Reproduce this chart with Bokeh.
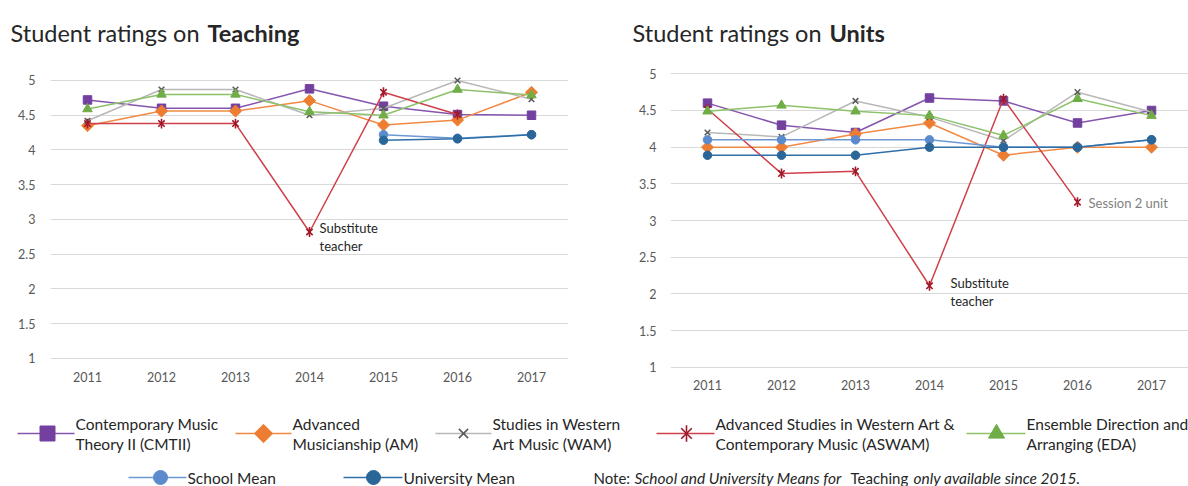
import numpy as np
from bokeh.plotting import figure
from bokeh.layouts import column, row
from bokeh.models import Range1d, FixedTicker, NumeralTickFormatter, Label
from bokeh.embed import file_html
from bokeh.resources import INLINE

nan = float("nan")

# ---------------- data ----------------
years = [2011, 2012, 2013, 2014, 2015, 2016, 2017]
y_ticks = [1, 1.5, 2, 2.5, 3, 3.5, 4, 4.5, 5]

teach_cmtii = [4.72, 4.60, 4.60, 4.88, 4.63, 4.51, 4.50]
teach_am = [4.35, 4.56, 4.56, 4.71, 4.36, 4.43, 4.83]
teach_wam = [4.42, 4.87, 4.87, 4.50, 4.60, 5.00, 4.73]
teach_aswam = [4.38, 4.38, 4.38, 2.82, 4.83, 4.51, nan]
teach_eda = [4.59, 4.80, 4.80, 4.55, 4.50, 4.87, 4.79]
teach_school = [nan, nan, nan, nan, 4.22, 4.17, 4.22]
teach_univ = [nan, nan, nan, nan, 4.14, 4.16, 4.22]

units_cmtii = [4.60, 4.30, 4.20, 4.67, 4.63, 4.33, 4.50]
units_am = [4.00, 4.00, 4.18, 4.33, 3.89, 4.00, 4.00]
units_wam = [4.20, 4.14, 4.63, 4.41, 4.09, 4.75, 4.48]
units_aswam = [4.52, 3.64, 3.67, 2.11, 4.66, 3.25, nan]
units_eda = [4.49, 4.57, 4.49, 4.43, 4.16, 4.66, 4.43]
units_school = [4.10, 4.10, 4.10, 4.10, 4.00, 4.00, 4.10]
units_univ = [3.89, 3.89, 3.89, 4.00, 4.00, 4.00, 4.10]

legend_labels = [
    ["Contemporary Music", "Theory II (CMTII)"],
    ["Advanced", "Musicianship (AM)"],
    ["Studies in Western", "Art Music (WAM)"],
    ["Advanced Studies in Western Art &", "Contemporary Music (ASWAM)"],
    ["Ensemble Direction and", "Arranging (EDA)"],
    ["School Mean"],
    ["University Mean"],
]

# ---------------- styles ----------------
FONT = "Lato"
TXT = "#262626"
STYLES = [
    dict(line="#8655AE", marker="square", fill="#7340A0", angle=0.0, size=8.5, lsize=15),
    dict(line="#F08A45", marker="square", fill="#ED7D31", angle=np.pi / 4, size=8.5, lsize=13),
    dict(line="#B8B8B8", marker="x", fill="#595959", angle=0.0, size=8, lsize=13),
    dict(line="#D0404A", marker="star6", fill="#A0192A", angle=0.0, size=9, lsize=15),
    dict(line="#8CC26A", marker="triangle", fill="#70AD47", angle=0.0, size=9.5, lsize=16),
    dict(line="#6C98D4", marker="circle", fill="#5B8BCD", angle=0.0, size=8.5, lsize=14),
    dict(line="#2F6FA8", marker="circle", fill="#2B6699", angle=0.0, size=8.5, lsize=14),
]


def draw_marker(p, xs, ys, st, size):
    if st["marker"] == "star6":
        p.scatter(xs, ys, marker="x", size=size, line_color=st["fill"], line_width=1.6)
        p.scatter(xs, ys, marker="dash", angle=np.pi / 2, size=size * 1.1,
                  line_color=st["fill"], line_width=1.6)
    elif st["marker"] == "x":
        p.scatter(xs, ys, marker="x", size=size, line_color=st["fill"], line_width=1.5)
    else:
        p.scatter(xs, ys, marker=st["marker"], angle=st["angle"], size=size,
                  fill_color=st["fill"], line_color=st["fill"])


def make_chart(series, width, bl, br, y_lo, y_hi, ylab_standoff, xlab_standoff):
    p = figure(width=width, height=348, x_range=Range1d(2010.5, 2017.5),
               y_range=Range1d(y_lo, y_hi), output_backend="svg", toolbar_location=None,
               min_border_left=bl, min_border_right=br, min_border_top=20, min_border_bottom=32)
    p.outline_line_color = None
    p.background_fill_color = "white"
    p.border_fill_color = "white"
    p.xgrid.visible = False
    p.ygrid.grid_line_color = "#D9D9D9"
    p.ygrid.grid_line_width = 1
    p.xaxis.ticker = FixedTicker(ticks=years)
    p.yaxis.ticker = FixedTicker(ticks=y_ticks)
    p.xaxis.formatter = NumeralTickFormatter(format="0")
    p.yaxis.formatter = NumeralTickFormatter(format="0.[0]")
    for ax in (p.xaxis, p.yaxis):
        ax.axis_line_color = None
        ax.major_tick_line_color = None
        ax.minor_tick_line_color = None
        ax.major_tick_in = 0
        ax.major_tick_out = 0
        ax.major_label_text_font = FONT
        ax.major_label_text_font_size = "12.5px"
        ax.major_label_text_color = "#595959"
    p.yaxis.major_label_standoff = ylab_standoff
    p.xaxis.major_label_standoff = xlab_standoff
    for vals, st in zip(series, STYLES):
        p.line(years, vals, line_color=st["line"], line_width=1.5)
        draw_marker(p, years, vals, st, st["size"])
    return p


def note(p, x, y, text, dx, dy, color=TXT, size="13px"):
    p.add_layout(Label(x=x, y=y, text=text, x_offset=dx, y_offset=dy,
                       text_baseline="middle", text_align="left", text_font=FONT,
                       text_font_size=size, text_color=color))


left = make_chart([teach_cmtii, teach_am, teach_wam, teach_aswam, teach_eda, teach_school, teach_univ],
                  600, 50, 32, 0.856, 5.115, 15, 3)
note(left, years[3], teach_aswam[3], "Substitute", 10, 4)
note(left, years[3], teach_aswam[3], "teacher", 10, -13.5)

right = make_chart([units_cmtii, units_am, units_wam, units_aswam, units_eda, units_school, units_univ],
                   588, 70, 0, 0.982, 5.018, 14, 11)
note(right, years[3], units_aswam[3], "Substitute", 21, 2.3)
note(right, years[3], units_aswam[3], "teacher", 21, -15.7)
note(right, years[5], units_aswam[5], "Session 2 unit", 11, -1, color="#7F7F7F")

# ---------------- header (titles) ----------------
hdr = figure(width=1188, height=52, x_range=Range1d(0, 1188), y_range=Range1d(52, 0),
             x_axis_type=None, y_axis_type=None, output_backend="svg", toolbar_location=None,
             min_border=0)
hdr.outline_line_color = None
hdr.xgrid.visible = False
hdr.ygrid.visible = False
for x, t, style in [(10, "Student ratings on", "normal"), (207, "Teaching", "bold"),
                    (632, "Student ratings on", "normal"), (829, "Units", "bold")]:
    hdr.add_layout(Label(x=x, y=32, text=t, text_baseline="alphabetic", text_font=FONT,
                         text_font_size="23.5px", text_font_style=style, text_color=TXT))

# ---------------- legend ----------------
leg = figure(width=1188, height=86, x_range=Range1d(0, 1188), y_range=Range1d(86, 0),
             x_axis_type=None, y_axis_type=None, output_backend="svg", toolbar_location=None,
             min_border=0)
leg.outline_line_color = None
leg.xgrid.visible = False
leg.ygrid.visible = False

LEG_FS = "15.5px"
# (line start, marker x, line end / text x, row y) in legend pixels
slots = [(17, 47, 74, 33), (235, 263, 291, 33), (435, 463, 491, 33), (656, 686, 714, 33),
         (966, 996, 1025, 33), (128, 160, 186, 77), (343, 373, 402, 77)]
for (x0, xm, x1, yy), st, lab in zip(slots, STYLES, legend_labels):
    leg.line([x0, x1], [yy, yy], line_color=st["line"], line_width=1.5)
    draw_marker(leg, [xm], [yy], st, st["lsize"])
    if len(lab) == 2:
        for k, txt in enumerate(lab):
            leg.add_layout(Label(x=x1 + 1, y=yy - 10 + 20 * k, text=txt, text_baseline="middle",
                                 text_font=FONT, text_font_size=LEG_FS, text_color=TXT))
    else:
        leg.add_layout(Label(x=x1 + 1, y=yy, text=lab[0], text_baseline="middle",
                             text_font=FONT, text_font_size=LEG_FS, text_color=TXT))

for x, t, style, fs in [(593, "Note:", "normal", "15px"),
                        (634, "School and University Means for", "italic", "15.5px"),
                        (850, "Teaching", "normal", "15px"),
                        (913, "only available since 2015.", "italic", "15.5px")]:
    leg.add_layout(Label(x=x, y=77, text=t, text_baseline="middle", text_font=FONT,
                         text_font_size=fs, text_font_style=style, text_color=TXT))

layout = column(hdr, row(left, right), leg)
open("out.html", "w").write(file_html(layout, INLINE))
